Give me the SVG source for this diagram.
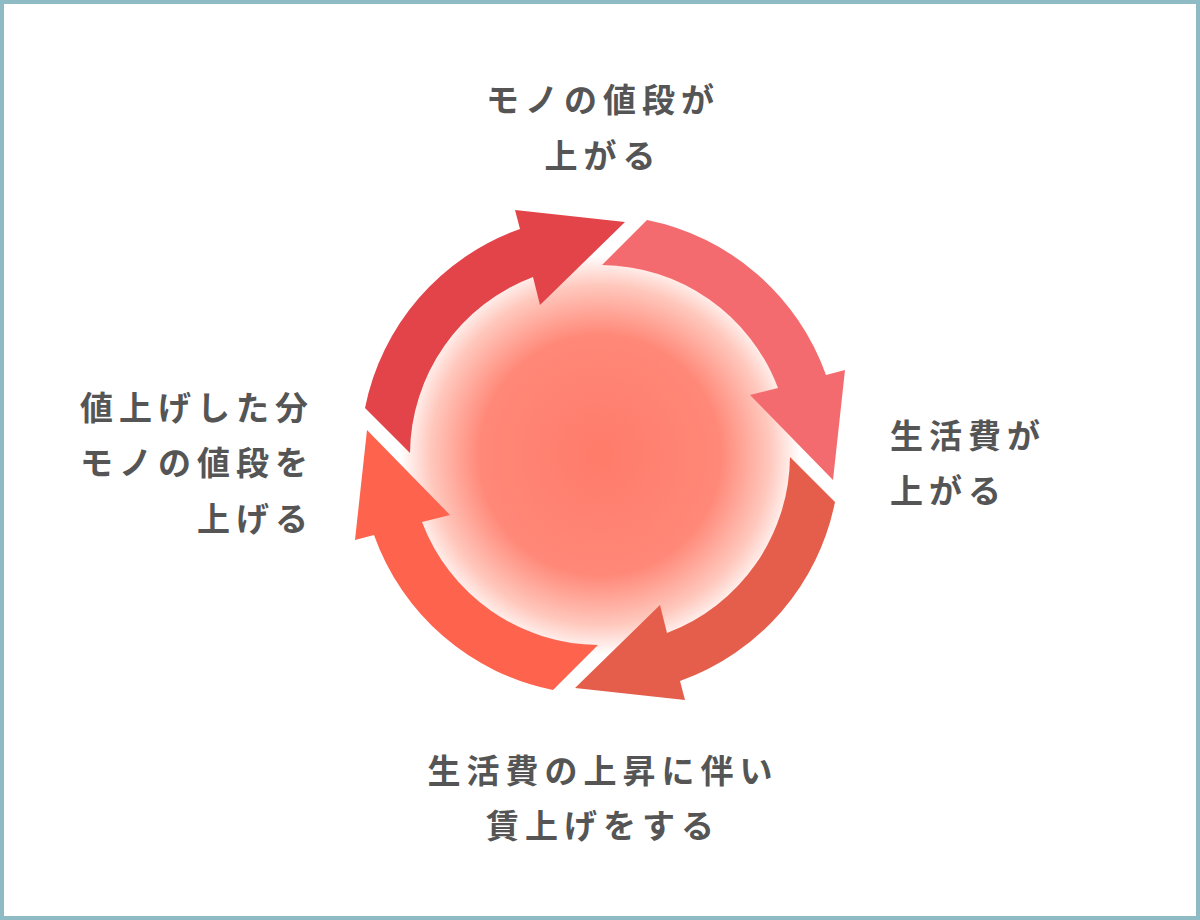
<svg xmlns="http://www.w3.org/2000/svg" width="1200" height="920" viewBox="0 0 1200 920">
<style>
.t{font-family:"Noto Sans CJK JP","Noto Sans",sans-serif;font-weight:700;font-size:33px;fill:#555;letter-spacing:6px}
</style>
<defs>
<radialGradient id="g" cx="0.5" cy="0.5" r="0.5">
<stop offset="0" stop-color="#ff7b6a"/>
<stop offset="0.6" stop-color="#ff8878"/>
<stop offset="0.85" stop-color="#ffc8bd"/>
<stop offset="1" stop-color="#ffffff"/>
</radialGradient>
<path id="arr" d="M-235,-47 A240,240 0 0 1 -80,-226 L-85,-245 L25,-233 L-60,-150 L-67,-178 A190,190 0 0 0 -190,-2 Z"/>
</defs>
<rect x="2" y="2" width="1196" height="916" fill="#fff" stroke="#8fbcc4" stroke-width="4"/>
<g id="center"><circle cx="600" cy="455" r="200" fill="url(#g)"/></g>
<g id="connectors" transform="translate(600,455)">
<use href="#arr" fill="#e2444a"/>
<use href="#arr" fill="#f36b6e" transform="rotate(90)"/>
<use href="#arr" fill="#e55e4b" transform="rotate(180)"/>
<use href="#arr" fill="#fe634e" transform="rotate(270)"/>
</g>
<g id="n-top"><text class="t" x="603" y="112" text-anchor="middle">モノの値段が</text><text class="t" x="603" y="168" text-anchor="middle">上がる</text></g>
<g id="n-right"><text class="t" x="890" y="448">生活費が</text><text class="t" x="890" y="503">上がる</text></g>
<g id="n-bottom"><text class="t" x="603" y="783" text-anchor="middle">生活費の上昇に伴い</text><text class="t" x="603" y="838" text-anchor="middle">賃上げをする</text></g>
<g id="n-left"><text class="t" x="314" y="420" text-anchor="end">値上げした分</text><text class="t" x="314" y="475" text-anchor="end">モノの値段を</text><text class="t" x="314" y="531" text-anchor="end">上げる</text></g>
</svg>
